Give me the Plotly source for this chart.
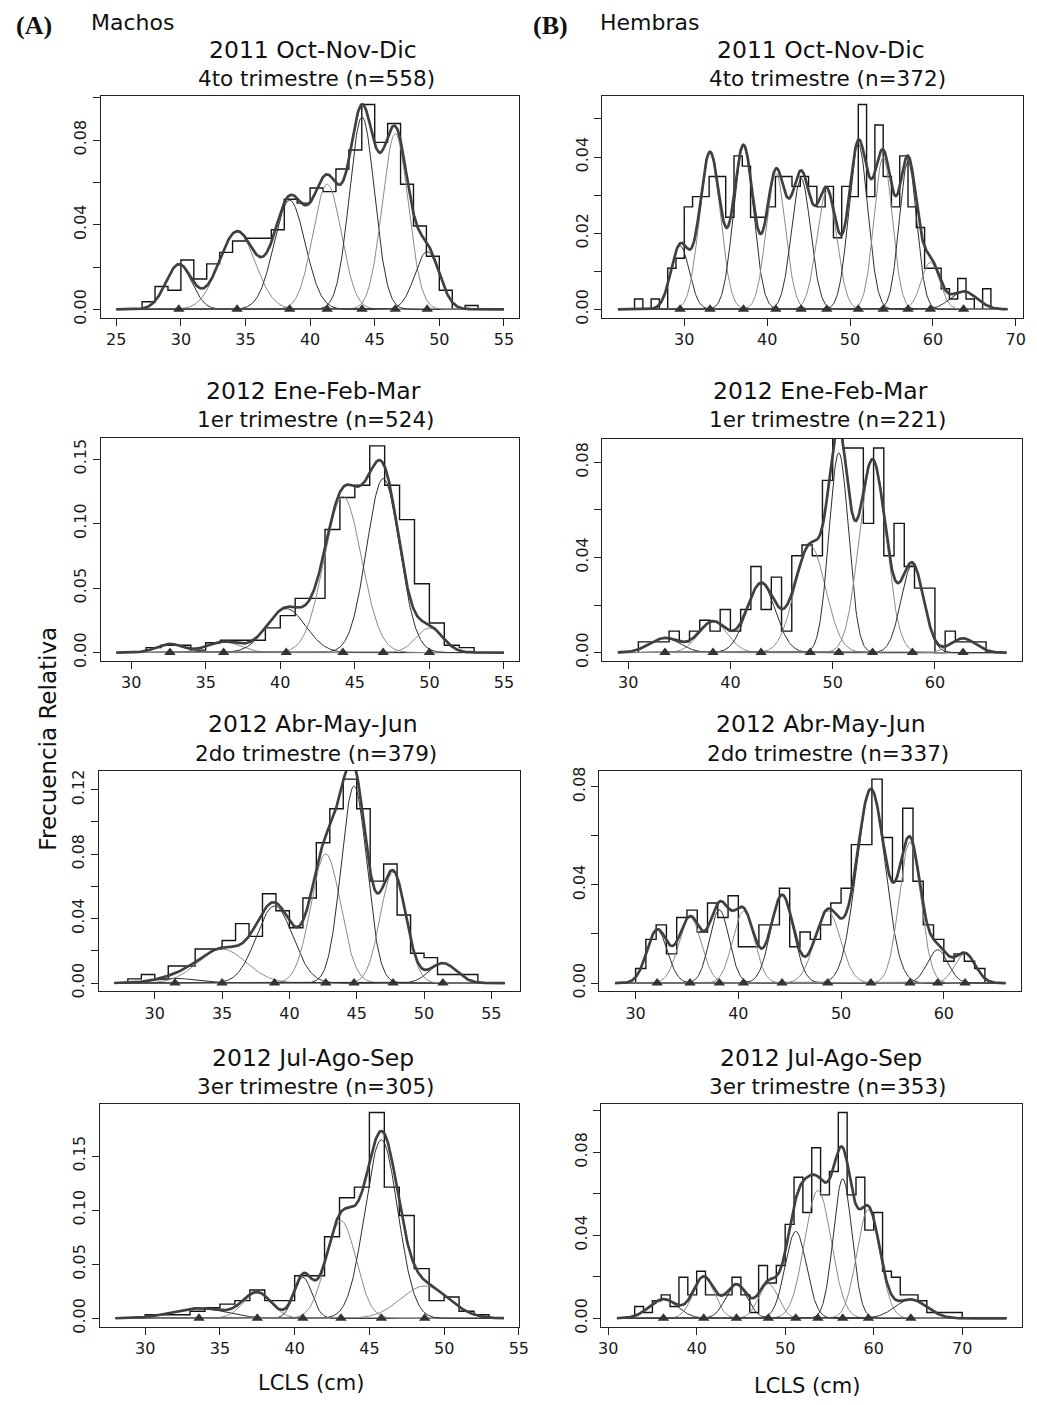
import numpy as np
import plotly.graph_objects as go

W, H = 1037, 1405

# ---------------- Machos (A) ----------------
# 2011 Oct-Nov-Dic, 4to trimestre (n=558)
a1_start = 27
a1_freq = [0.0036, 0.0108, 0.0090, 0.0233, 0.0143, 0.0215, 0.0269, 0.0323, 0.0336, 0.0336,
           0.0376, 0.0520, 0.0502, 0.0573, 0.0556, 0.0663, 0.0753, 0.0968, 0.0789, 0.0878,
           0.0591, 0.0394, 0.0251, 0.0090, 0.0, 0.0018]
a1_mu = [29.84, 34.35, 38.42, 41.32, 44.02, 46.59, 49.06]
a1_sd = [1.00, 1.40, 1.20, 1.10, 0.97, 1.00, 0.95]
a1_pi = [0.053, 0.129, 0.155, 0.163, 0.221, 0.208, 0.065]

# 2012 Ene-Feb-Mar, 1er trimestre (n=524)
a2_start = 31
a2_freq = [0.0038, 0.0057, 0.0057, 0.0019, 0.0076, 0.0095, 0.0095, 0.0095, 0.0191, 0.0286,
           0.0420, 0.0420, 0.0954, 0.1202, 0.1298, 0.1603, 0.1298, 0.1031, 0.0534, 0.0229,
           0.0057, 0.0038]
a2_mu = [32.6, 36.2, 40.4, 44.2, 46.9, 50.0]
a2_sd = [0.90, 1.10, 1.30, 1.25, 1.10, 0.90]
a2_pi = [0.015, 0.023, 0.111, 0.379, 0.372, 0.043]

# 2012 Abr-May-Jun, 2do trimestre (n=379)
a3_start = 28
a3_freq = [0.0026, 0.0053, 0.0026, 0.0106, 0.0106, 0.0211, 0.0211, 0.0264, 0.0369, 0.0290,
           0.0554, 0.0449, 0.0343, 0.0528, 0.0871, 0.1082, 0.1266, 0.1082, 0.0633, 0.0739,
           0.0422, 0.0185, 0.0158, 0.0053, 0.0053, 0.0053]
a3_mu = [31.5, 35.0, 38.9, 42.7, 44.8, 47.7, 51.4]
a3_sd = [1.50, 1.80, 1.35, 1.10, 0.95, 0.95, 1.00]
a3_pi = [0.011, 0.095, 0.162, 0.221, 0.291, 0.164, 0.031]

# 2012 Jul-Ago-Sep, 3er trimestre (n=305)
a4_start = 30
a4_freq = [0.0033, 0.0033, 0.0033, 0.0066, 0.0098, 0.0131, 0.0164, 0.0262, 0.0164, 0.0164,
           0.0393, 0.0393, 0.0754, 0.1115, 0.1213, 0.1902, 0.1213, 0.0951, 0.0459, 0.0164,
           0.0197, 0.0066, 0.0033]
a4_mu = [33.6, 37.5, 40.55, 43.1, 45.8, 48.7]
a4_sd = [1.80, 0.95, 0.60, 1.00, 1.10, 1.60]
a4_pi = [0.042, 0.056, 0.057, 0.226, 0.455, 0.120]

# ---------------- Hembras (B) ----------------
# 2011 Oct-Nov-Dic, 4to trimestre (n=372)
b1_start = 24
b1_freq = [0.0027, 0.0, 0.0027, 0.0, 0.0108, 0.0134, 0.0269, 0.0296, 0.0296, 0.0349,
           0.0349, 0.0242, 0.0403, 0.0376, 0.0242, 0.0242, 0.0269, 0.0349, 0.0349, 0.0323,
           0.0349, 0.0323, 0.0269, 0.0323, 0.0188, 0.0323, 0.0296, 0.0538, 0.0296, 0.0484,
           0.0349, 0.0269, 0.0403, 0.0269, 0.0215, 0.0108, 0.0108, 0.0054, 0.0027, 0.0081,
           0.0027, 0.0, 0.0054]
b1_mu = [29.5, 33.1, 37.15, 41.05, 44.1, 47.2, 51.0, 54.0, 57.0, 59.7, 63.7]
b1_sd = [1.10, 1.25, 1.20, 1.15, 1.15, 1.20, 1.15, 1.10, 1.05, 1.10, 1.60]
b1_pi = [0.046, 0.129, 0.129, 0.103, 0.099, 0.093, 0.125, 0.110, 0.102, 0.034, 0.019]

# 2012 Ene-Feb-Mar, 1er trimestre (n=221)
b2_start = 31
b2_freq = [0.0045, 0.0045, 0.0045, 0.0090, 0.0045, 0.0090, 0.0136, 0.0090, 0.0181, 0.0090,
           0.0181, 0.0362, 0.0181, 0.0317, 0.0090, 0.0407, 0.0452, 0.0407, 0.0724, 0.0950,
           0.0860, 0.0860, 0.0543, 0.0860, 0.0407, 0.0543, 0.0362, 0.0271, 0.0271, 0.0,
           0.0090, 0.0045, 0.0045, 0.0045]
b2_mu = [33.6, 38.3, 43.0, 47.8, 50.6, 53.9, 57.8, 62.75]
b2_sd = [1.50, 1.40, 1.40, 1.50, 0.95, 1.30, 1.10, 1.20]
b2_pi = [0.023, 0.046, 0.102, 0.169, 0.200, 0.264, 0.102, 0.018]

# 2012 Abr-May-Jun, 2do trimestre (n=337)
b3_start = 30
b3_freq = [0.0059, 0.0178, 0.0237, 0.0119, 0.0267, 0.0297, 0.0208, 0.0326, 0.0267, 0.0356,
           0.0148, 0.0148, 0.0237, 0.0237, 0.0386, 0.0148, 0.0208, 0.0178, 0.0237, 0.0326,
           0.0386, 0.0564, 0.0564, 0.0831, 0.0593, 0.0415, 0.0712, 0.0415, 0.0237, 0.0178,
           0.0089, 0.0119, 0.0089, 0.0059]
b3_mu = [32.1, 35.3, 38.15, 40.5, 44.26, 48.7, 52.9, 56.7, 59.4, 62.07]
b3_sd = [1.00, 1.10, 0.95, 1.05, 1.10, 1.25, 1.40, 1.05, 1.00, 1.00]
b3_pi = [0.054, 0.074, 0.071, 0.077, 0.099, 0.092, 0.277, 0.151, 0.034, 0.030]

# 2012 Jul-Ago-Sep, 3er trimestre (n=353)
b4_start = 33
b4_freq = [0.0057, 0.0028, 0.0085, 0.0113, 0.0057, 0.0198, 0.0113, 0.0227, 0.0113, 0.0113,
           0.0113, 0.0198, 0.0113, 0.0028, 0.0255, 0.0170, 0.0255, 0.0453, 0.0680, 0.0510,
           0.0822, 0.0595, 0.0708, 0.0992, 0.0595, 0.0680, 0.0425, 0.0510, 0.0227, 0.0198,
           0.0113, 0.0113, 0.0085, 0.0028, 0.0028, 0.0028, 0.0028]
b4_mu = [36.25, 40.8, 44.5, 48.1, 51.2, 53.7, 56.5, 59.4, 64.2]
b4_sd = [1.60, 1.20, 1.20, 1.10, 1.20, 1.50, 1.05, 1.30, 1.80]
b4_pi = [0.037, 0.060, 0.049, 0.046, 0.126, 0.232, 0.177, 0.171, 0.041]

titles_a = [("2011 Oct-Nov-Dic", "4to trimestre (n=558)"),
            ("2012 Ene-Feb-Mar", "1er trimestre (n=524)"),
            ("2012 Abr-May-Jun", "2do trimestre (n=379)"),
            ("2012 Jul-Ago-Sep", "3er trimestre (n=305)")]
titles_b = [("2011 Oct-Nov-Dic", "4to trimestre (n=372)"),
            ("2012 Ene-Feb-Mar", "1er trimestre (n=221)"),
            ("2012 Abr-May-Jun", "2do trimestre (n=337)"),
            ("2012 Jul-Ago-Sep", "3er trimestre (n=353)")]

# panel layout: data, x limits of the fitted curves, y limit, ticks, box in pixels
panels = [
    dict(start=a1_start, freq=a1_freq, mu=a1_mu, sd=a1_sd, pi=a1_pi, xlim=(25, 55), ytop=0.0968,
         xt=[25, 30, 35, 40, 45, 50, 55], yt=[0, .02, .04, .06, .08, .10], ylab=[0, 2, 4],
         box=(99, 523, 93, 316)),
    dict(start=b1_start, freq=b1_freq, mu=b1_mu, sd=b1_sd, pi=b1_pi, xlim=(22, 69), ytop=0.0538,
         xt=[30, 40, 50, 60, 70], yt=[0, .01, .02, .03, .04, .05], ylab=[0, 2, 4],
         box=(607, 1033, 93, 316)),
    dict(start=a2_start, freq=a2_freq, mu=a2_mu, sd=a2_sd, pi=a2_pi, xlim=(29, 55), ytop=0.1603,
         xt=[30, 35, 40, 45, 50, 55], yt=[0, .05, .10, .15], ylab=[0, 1, 2, 3],
         box=(99, 523, 437, 662)),
    dict(start=b2_start, freq=b2_freq, mu=b2_mu, sd=b2_sd, pi=b2_pi, xlim=(29, 67), ytop=0.0865,
         xt=[30, 40, 50, 60], yt=[0, .02, .04, .06, .08], ylab=[0, 2, 4],
         box=(607, 1032, 438, 662)),
    dict(start=a3_start, freq=a3_freq, mu=a3_mu, sd=a3_sd, pi=a3_pi, xlim=(27, 56), ytop=0.1266,
         xt=[30, 35, 40, 45, 50, 55], yt=[0, .02, .04, .06, .08, .10, .12], ylab=[0, 2, 4, 6],
         box=(97, 524, 773, 995)),
    dict(start=b3_start, freq=b3_freq, mu=b3_mu, sd=b3_sd, pi=b3_pi, xlim=(28, 66), ytop=0.0831,
         xt=[30, 40, 50, 60], yt=[0, .02, .04, .06, .08], ylab=[0, 2, 4],
         box=(604, 1031, 773, 995)),
    dict(start=a4_start, freq=a4_freq, mu=a4_mu, sd=a4_sd, pi=a4_pi, xlim=(28, 54), ytop=0.1902,
         xt=[30, 35, 40, 45, 50, 55], yt=[0, .05, .10, .15], ylab=[0, 1, 2, 3],
         box=(98, 523, 1109, 1333)),
    dict(start=b4_start, freq=b4_freq, mu=b4_mu, sd=b4_sd, pi=b4_pi, xlim=(31, 75), ytop=0.0992,
         xt=[30, 40, 50, 60, 70], yt=[0, .02, .04, .06, .08, .10], ylab=[0, 2, 4],
         box=(606, 1032, 1109, 1333)),
]

FONT = "DejaVu Sans"
comp_colors = ["#2e2e2e", "#8a8a8a"]

fig = go.Figure()
layout = {}


def normal_mix(x, mu, sd, p):
    return p / (sd * np.sqrt(2 * np.pi)) * np.exp(-0.5 * ((x - mu) / sd) ** 2)


for i, pn in enumerate(panels, start=1):
    xr = "x" if i == 1 else f"x{i}"
    yr = "y" if i == 1 else f"y{i}"
    xk = "xaxis" if i == 1 else f"xaxis{i}"
    yk = "yaxis" if i == 1 else f"yaxis{i}"

    # histogram outline (1 cm classes)
    freq = np.array(pn["freq"])
    edges = pn["start"] + np.arange(len(freq) + 1)
    hx = np.concatenate([[edges[0]], edges])
    hy = np.concatenate([[0.0], freq, [0.0]])
    fig.add_trace(go.Scatter(x=hx, y=hy, mode="lines", xaxis=xr, yaxis=yr,
                             line=dict(color="#151515", width=1.4, shape="hv"),
                             hoverinfo="skip"))

    # fitted normal components and their sum
    lo, hi = pn["xlim"]
    grid = np.linspace(lo, hi, 600)
    total = np.zeros_like(grid)
    for k, (m, s, p) in enumerate(zip(pn["mu"], pn["sd"], pn["pi"])):
        comp = normal_mix(grid, m, s, p)
        total += comp
        fig.add_trace(go.Scatter(x=grid, y=comp, mode="lines", xaxis=xr, yaxis=yr,
                                 line=dict(color=comp_colors[k % 2], width=1.0),
                                 hoverinfo="skip"))
    fig.add_trace(go.Scatter(x=grid, y=total, mode="lines", xaxis=xr, yaxis=yr,
                             line=dict(color="#404040", width=2.7), hoverinfo="skip"))
    # component means
    fig.add_trace(go.Scatter(x=pn["mu"], y=[0] * len(pn["mu"]), mode="markers",
                             xaxis=xr, yaxis=yr,
                             marker=dict(symbol="triangle-up", size=10, color="#333333"),
                             hoverinfo="skip"))

    x0, x1, y0, y1 = pn["box"]
    span = hi - lo
    ytop = pn["ytop"]
    ticktext = ["" for _ in pn["yt"]]
    for j in pn["ylab"]:
        ticktext[j] = f"{pn['yt'][j]:.2f}"
    axis_common = dict(showgrid=False, zeroline=False, showline=True, mirror=True,
                       linecolor="#222222", linewidth=1.3, ticks="outside", ticklen=7,
                       tickwidth=1.2, tickcolor="#222222")
    layout[xk] = dict(axis_common, domain=[x0 / W, x1 / W], anchor=yr,
                      range=[lo - 0.04 * span, hi + 0.04 * span],
                      tickvals=pn["xt"], ticktext=[str(v) for v in pn["xt"]],
                      tickfont=dict(family=FONT, size=16, color="#1a1a1a"))
    layout[yk] = dict(axis_common, domain=[1 - y1 / H, 1 - y0 / H], anchor=xr,
                      range=[-0.04 * ytop, 1.04 * ytop],
                      tickvals=pn["yt"], ticktext=ticktext, tickangle=-90,
                      tickfont=dict(family=FONT, size=16, color="#1a1a1a"))

annotations = []


def txt(x, y, s, size, family=FONT, bold=False):
    annotations.append(dict(x=x / W, y=1 - y / H, xref="paper", yref="paper",
                            text=f"<b>{s}</b>" if bold else s, showarrow=False,
                            xanchor="center", yanchor="middle",
                            font=dict(family=family, size=size, color="#111111")))


title_rows = [(46, 75), (390, 419), (726, 755), (1062, 1091)]
for (l1, l2), (t1, t2) in zip(title_rows, titles_a):
    txt(314, l1, t1, 23.5)
    txt(317, l2, t2, 21.5)
for (l1, l2), (t1, t2) in zip(title_rows, titles_b):
    txt(828, l1, t1, 23.5)
    txt(835, l2, t2, 21.5)

txt(31, 22, "(A)", 26, family="Liberation Serif", bold=True)
txt(131, 19, "Machos", 22)
txt(554, 22, "(B)", 26, family="Liberation Serif", bold=True)
txt(655, 19, "Hembras", 22)
txt(312, 1390, "LCLS (cm)", 21)
txt(814, 1393, "LCLS (cm)", 21)
annotations.append(dict(x=46 / W, y=1 - 740 / H, xref="paper", yref="paper",
                        text="Frecuencia Relativa", showarrow=False, textangle=-90,
                        xanchor="center", yanchor="middle",
                        font=dict(family=FONT, size=23, color="#111111")))

fig.update_layout(width=W, height=H, margin=dict(l=0, r=0, t=0, b=0),
                  paper_bgcolor="white", plot_bgcolor="white", showlegend=False,
                  annotations=annotations, **layout)

fig.write_html("out.html")
